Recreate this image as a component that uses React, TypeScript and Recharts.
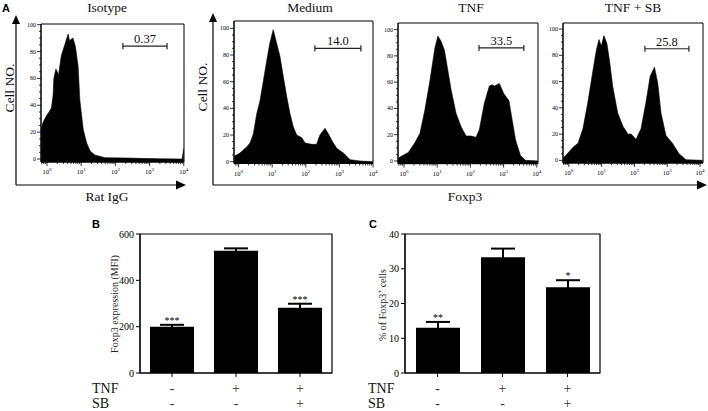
import React from 'react';
import {
  AreaChart, Area, BarChart, Bar, XAxis, YAxis, ErrorBar, LabelList,
  ReferenceLine, ReferenceArea,
} from 'recharts';

const SERIF = "'Liberation Serif', 'Times New Roman', Times, serif";
const SANS = "'Liberation Sans', Arial, sans-serif";

// histogram data: [log10 fluorescence, cell count]
const isotypeHist = [
  [-0.17, 22], [-0.12, 27], [-0.02, 32], [0.06, 35], [0.13, 38], [0.18, 48], [0.2, 60],
  [0.26, 67], [0.34, 63], [0.42, 77], [0.52, 85], [0.58, 90], [0.62, 93], [0.66, 88],
  [0.7, 89], [0.76, 90], [0.83, 84], [0.91, 69], [0.96, 44], [1.06, 22], [1.16, 12],
  [1.26, 6], [1.4, 3], [1.7, 1], [2.3, 0.8], [2.68, 0.5], [3.3, 0.2], [3.95, 0], [4.0, 8],
];
const mediumHist = [
  [-0.13, 4], [0.04, 6.5], [0.24, 11], [0.34, 14], [0.44, 21], [0.54, 36], [0.64, 46],
  [0.74, 61], [0.84, 76], [0.93, 89], [1.03, 99], [1.13, 89], [1.23, 79], [1.33, 64],
  [1.43, 49], [1.53, 36], [1.63, 26], [1.73, 20], [1.88, 18], [1.98, 14], [2.18, 13],
  [2.32, 13], [2.42, 20], [2.57, 25], [2.67, 21], [2.77, 16], [2.92, 10], [3.12, 6.5],
  [3.32, 1.5], [3.62, 0.5], [4.0, 0],
];
const tnfHist = [
  [-0.18, 2], [-0.12, 3], [0.13, 6.5], [0.33, 14], [0.48, 21], [0.63, 39], [0.78, 61],
  [0.93, 86], [1.02, 95], [1.07, 93], [1.12, 91], [1.22, 84], [1.32, 69], [1.42, 54],
  [1.57, 36], [1.72, 26], [1.87, 19], [2.02, 19], [2.17, 18], [2.27, 24], [2.42, 44],
  [2.57, 57], [2.65, 58], [2.72, 57], [2.8, 58], [2.87, 59], [3.01, 51], [3.16, 46],
  [3.26, 31], [3.36, 16], [3.51, 4], [3.66, 0.5], [4.03, 0],
];
const tnfSbHist = [
  [-0.17, 2], [-0.12, 3], [0.13, 10], [0.28, 13], [0.43, 24], [0.58, 44], [0.74, 69],
  [0.84, 84], [0.92, 92], [0.99, 87], [1.07, 95], [1.16, 89], [1.24, 76], [1.34, 56],
  [1.49, 36], [1.65, 26], [1.8, 20], [1.9, 20], [2.05, 16], [2.2, 24], [2.35, 44],
  [2.48, 64], [2.61, 71], [2.71, 59], [2.81, 36], [2.96, 19], [3.16, 13], [3.36, 5],
  [3.57, 0.5], [4.08, 0],
];

const decadeTicks = [0, 1, 2, 3, 4];
const countTicks = [0, 20, 40, 60, 80, 100];

// bar charts
const groups = ['g1', 'g2', 'g3'];
const tnfRow = ['-', '+', '+'];
const sbRow = ['-', '-', '+'];
const mfiValues = [200, 528, 282];
const mfiErrors = [8, 10, 17];
const mfiStars = ['***', '', '***'];
const mfiTicks = [0, 200, 400, 600];
const pctValues = [13.0, 33.3, 24.7];
const pctErrors = [1.7, 2.5, 2.0];
const pctStars = ['**', '', '*'];
const pctTicks = [0, 10, 20, 30, 40];

const minorDecades: number[] = [];
for (let n = -1; n < 4; n++) {
  for (let k = 2; k <= 9; k++) minorDecades.push(n + Math.log10(k));
}
const minorCounts: number[] = [];
for (let c = 0; c <= 100; c += 5) if (c % 20 !== 0) minorCounts.push(c);

const serif = { fontFamily: SERIF };

const LogTick = (props: any) => {
  const { x, y, payload } = props;
  const v = payload.value;
  const major = Math.abs(v - Math.round(v)) < 1e-6;
  return (
    <g>
      <line x1={x} x2={x} y1={y} y2={y + (major ? 4 : 2)} stroke="#000" strokeWidth={0.8} />
      {major && (
        <text x={x} y={y + 12} fontSize={6.5} style={serif} fill="#000" textAnchor="middle">
          10<tspan dy={-3} fontSize={5}>{Math.round(v)}</tspan>
        </text>
      )}
    </g>
  );
};

const CountTick = (props: any) => {
  const { x, y, payload } = props;
  const v = payload.value;
  const major = v % 20 === 0;
  return (
    <g>
      <line x1={x - (major ? 4 : 2)} x2={x} y1={y} y2={y} stroke="#000" strokeWidth={0.8} />
      {major && (
        <text x={x - 5} y={y + 2} fontSize={6} style={serif} fill="#000" textAnchor="end">
          {v}
        </text>
      )}
    </g>
  );
};

interface HistProps {
  data: number[][];
  L: number; R: number; T: number; B: number;
  xDom: [number, number];
  yDom: [number, number];
  gate: [number, number, number];
  gateLabel: string;
}

const Histogram = ({ data, L, R, T, B, xDom, yDom, gate, gateLabel }: HistProps) => {
  const rows = data.map(([v, n]) => ({ v, n }));
  const ticks = [...decadeTicks, ...minorDecades.filter((t) => t > xDom[0] && t < xDom[1])];
  const [g1, g2, gy] = gate;
  return (
    <div style={{ position: 'absolute', left: L - 30, top: T - 6 }}>
      <AreaChart width={30 + R - L + 8} height={6 + B - T + 16} data={rows}
        margin={{ top: 6, right: 8, bottom: 0, left: 0 }}>
        <XAxis type="number" dataKey="v" domain={xDom} allowDataOverflow ticks={ticks}
          interval={0} tick={<LogTick />} tickLine={false} tickSize={0} tickMargin={0}
          axisLine={{ stroke: '#000' }} height={16} />
        <YAxis type="number" domain={yDom} allowDataOverflow ticks={[...countTicks, ...minorCounts]}
          interval={0} tick={<CountTick />} tickLine={false} tickSize={0} tickMargin={0}
          axisLine={{ stroke: '#000' }} width={30} />
        <Area type="linear" dataKey="n" stroke="#000" strokeWidth={0.6} fill="#000"
          fillOpacity={1} baseValue={yDom[0]} dot={false} activeDot={false}
          isAnimationActive={false} />
        <ReferenceArea x1={xDom[0]} x2={xDom[1]} y1={yDom[0]} y2={yDom[1]}
          fill="none" stroke="#000" strokeWidth={1} />
        <ReferenceLine segment={[{ x: g1, y: gy }, { x: g2, y: gy }]} stroke="#222" strokeWidth={1.2}
          label={{ value: gateLabel, position: 'top', offset: 3, fontSize: 12.5, style: serif, fill: '#111' }} />
        <ReferenceLine segment={[{ x: g1, y: gy - 2.3 }, { x: g1, y: gy + 2.3 }]} stroke="#222" strokeWidth={1.2} />
        <ReferenceLine segment={[{ x: g2, y: gy - 2.3 }, { x: g2, y: gy + 2.3 }]} stroke="#222" strokeWidth={1.2} />
      </AreaChart>
    </div>
  );
};

const RowTick = (props: any) => {
  const { x, y, payload } = props;
  const i = payload.index ?? groups.indexOf(payload.value);
  return (
    <g style={serif} fontSize={14} fill="#333" textAnchor="middle">
      <text x={x} y={y + 13.5} style={serif}>{tnfRow[i]}</text>
      <text x={x} y={y + 28.5} style={serif}>{sbRow[i]}</text>
    </g>
  );
};

interface BarsProps {
  L: number; T: number; width: number;
  values: number[]; errors: number[]; stars: string[]; ticks: number[];
}

const BarPanel = ({ L, T, width, values, errors, stars, ticks }: BarsProps) => {
  const rows = groups.map((g, i) => ({ g, v: values[i], err: errors[i], sig: stars[i] }));
  const top = ticks[ticks.length - 1];
  const Stars = (p: any) => {
    const { x, y, width: w, height: h, index } = p;
    if (!stars[index]) return null;
    const capY = y - (errors[index] * h) / values[index];
    return (
      <text x={x + w / 2} y={capY - 1} textAnchor="middle" fontSize={10} style={serif} fill="#000">
        {stars[index]}
      </text>
    );
  };
  return (
    <div style={{ position: 'absolute', left: L - 40, top: T - 10 }}>
      <BarChart width={40 + width + 10} height={10 + 139 + 38} data={rows}
        margin={{ top: 10, right: 10, bottom: 0, left: 0 }}>
        <XAxis dataKey="g" interval={0} tick={<RowTick />} tickSize={4} tickMargin={2}
          tickLine={{ stroke: '#000' }} axisLine={{ stroke: '#000' }} height={38} />
        <YAxis type="number" domain={[0, top]} ticks={ticks} interval={0} width={40} tickSize={4}
          tickMargin={2} tickLine={{ stroke: '#000' }} axisLine={{ stroke: '#000' }}
          tick={{ fontSize: 10, style: serif, fill: '#000' }} />
        <Bar dataKey="v" fill="#000" barSize={44} isAnimationActive={false}>
          <ErrorBar dataKey="err" direction="y" width={12} strokeWidth={2} stroke="#000" />
          <LabelList dataKey="sig" content={<Stars />} />
        </Bar>
        <ReferenceArea y1={0} y2={top} fill="none" stroke="#000" strokeWidth={1.2} />
      </BarChart>
    </div>
  );
};

const Arrow = ({ x1, y1, x2, y2 }: { x1: number; y1: number; x2: number; y2: number }) => {
  const vertical = x1 === x2;
  const head = vertical
    ? `${x2},${y2} ${x2 - 4},${y2 + 9} ${x2 + 4},${y2 + 9}`
    : `${x2},${y2} ${x2 - 10},${y2 - 4.5} ${x2 - 10},${y2 + 4.5}`;
  return (
    <g>
      <line x1={x1} y1={y1} x2={vertical ? x2 : x2 - 8} y2={vertical ? y2 + 7 : y2} stroke="#000" strokeWidth={1.2} />
      <polygon points={head} fill="#000" />
    </g>
  );
};

export default function App() {
  return (
    <div style={{ position: 'absolute', left: 0, top: 0, width: 708, height: 411, background: '#fff', overflow: 'hidden', fontFamily: SERIF }}>
      <Histogram data={isotypeHist} L={41} R={184} T={24} B={162} xDom={[-0.175, 4.006]}
        yDom={[-2.2, 100.5]} gate={[2.22, 3.51, 84]} gateLabel="0.37" />
      <Histogram data={mediumHist} L={234} R={373} T={21} B={163.5} xDom={[-0.137, 4.0]}
        yDom={[-1.35, 105.5]} gate={[2.27, 3.64, 85]} gateLabel="14.0" />
      <Histogram data={tnfHist} L={398} R={538} T={22.7} B={163.3} xDom={[-0.181, 4.036]}
        yDom={[-2, 105]} gate={[2.26, 3.61, 86]} gateLabel="33.5" />
      <Histogram data={tnfSbHist} L={563} R={703} T={23.3} B={163.3} xDom={[-0.177, 4.09]}
        yDom={[-2, 104.6]} gate={[2.32, 3.66, 85]} gateLabel="25.8" />

      <BarPanel L={140} T={234} width={192} values={mfiValues} errors={mfiErrors} stars={mfiStars} ticks={mfiTicks} />
      <BarPanel L={405} T={234} width={195} values={pctValues} errors={pctErrors} stars={pctStars} ticks={pctTicks} />

      <svg width={708} height={411} style={{ position: 'absolute', left: 0, top: 0, pointerEvents: 'none' }}>
        <Arrow x1={16} y1={185} x2={16} y2={15} />
        <Arrow x1={16} y1={185} x2={186} y2={185} />
        <Arrow x1={213} y1={185} x2={213} y2={13} />
        <Arrow x1={213} y1={185} x2={707} y2={185} />

        <g style={{ fontFamily: SANS }} fontWeight="bold" fontSize={11} fill="#000">
          <text x={2} y={12}>A</text>
          <text x={92} y={228}>B</text>
          <text x={369} y={228}>C</text>
        </g>
        <g style={serif} fontSize={13.5} fill="#111" textAnchor="middle">
          <text x={107} y={12}>Isotype</text>
          <text x={310} y={12}>Medium</text>
          <text x={471} y={12}>TNF</text>
          <text x={633} y={12}>TNF + SB</text>
          <text x={107} y={201}>Rat IgG</text>
          <text x={465} y={201}>Foxp3</text>
          <text transform="translate(13.5,88) rotate(-90)">Cell NO.</text>
          <text transform="translate(206.5,87) rotate(-90)">Cell NO.</text>
        </g>
        <g style={serif} fontSize={10} fill="#222" textAnchor="middle">
          <text transform="translate(117.5,304) rotate(-90)">Foxp3 expression (MFI)</text>
          <text transform="translate(385.5,305) rotate(-90)">
            % of Foxp3<tspan dy={-4} fontSize={7}>+</tspan><tspan dy={4}> cells</tspan>
          </text>
        </g>
        <g style={serif} fontSize={14} fill="#111">
          <text x={92} y={393}>TNF</text>
          <text x={92} y={408}>SB</text>
          <text x={368} y={393}>TNF</text>
          <text x={368} y={408}>SB</text>
        </g>
      </svg>
    </div>
  );
}
